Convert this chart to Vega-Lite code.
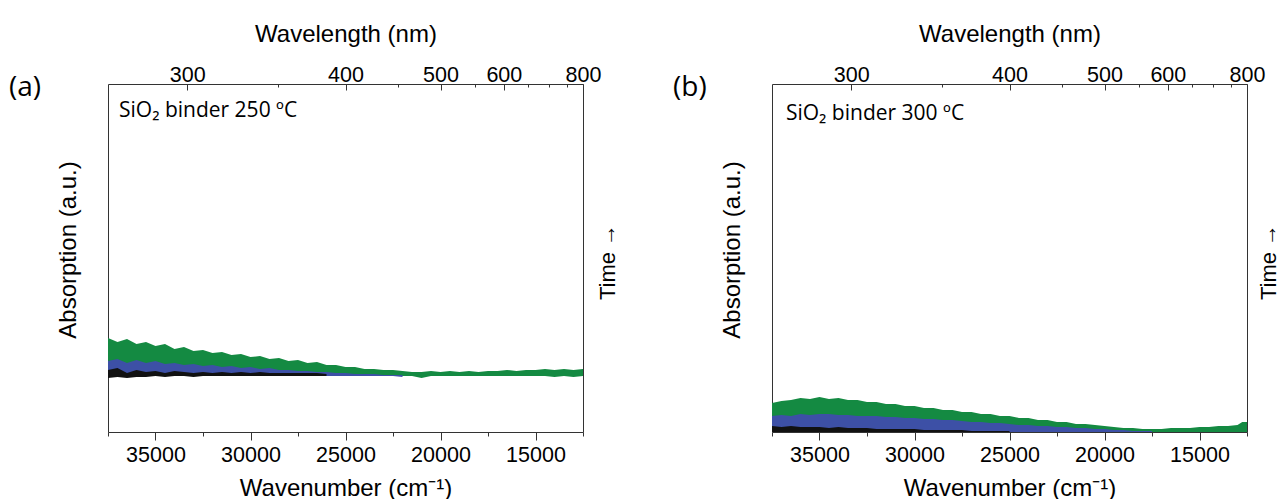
{
  "$schema": "https://vega.github.io/schema/vega-lite/v6.json",
  "padding": {"left": 8, "top": 21, "right": 0, "bottom": 0},
  "spacing": 189,
  "bounds": "flush",
  "config": {
    "view": {"stroke": "#333", "strokeWidth": 1},
    "font": "Liberation Sans",
    "axis": {
      "labelFont": "Liberation Sans", "labelFontSize": 21.5, "labelColor": "#000",
      "titleFont": "Liberation Sans", "titleFontSize": 24, "titleFontWeight": "normal", "titleColor": "#000",
      "tickColor": "#333", "tickWidth": 1, "domain": false, "grid": false, "labelFlush": false
    }
  },
  "datasets": {
    "a": [
      {"wn":37500,"g":94,"gl":57,"b":71,"bl":57,"k":62,"kl":54},
      {"wn":37000,"g":90,"gl":56,"b":73,"bl":56,"k":64,"kl":55},
      {"wn":36500,"g":93,"gl":57,"b":69,"bl":57,"k":59,"kl":54},
      {"wn":36000,"g":88,"gl":56,"b":72,"bl":56,"k":62,"kl":55},
      {"wn":35500,"g":90,"gl":57,"b":69,"bl":57,"k":60,"kl":55},
      {"wn":35000,"g":86,"gl":56,"b":71,"bl":56,"k":61,"kl":56},
      {"wn":34500,"g":88,"gl":57,"b":68,"bl":57,"k":59,"kl":55},
      {"wn":34000,"g":83,"gl":56,"b":69,"bl":56,"k":61,"kl":56},
      {"wn":33500,"g":85,"gl":57,"b":67,"bl":57,"k":60,"kl":56},
      {"wn":33000,"g":81,"gl":56,"b":68,"bl":56,"k":59,"kl":55},
      {"wn":32500,"g":82,"gl":57,"b":66,"bl":57,"k":60,"kl":56},
      {"wn":32000,"g":79,"gl":56,"b":67,"bl":56,"k":59,"kl":56},
      {"wn":31500,"g":80,"gl":57,"b":65,"bl":57,"k":60,"kl":56},
      {"wn":31000,"g":77,"gl":56,"b":66,"bl":56,"k":59,"kl":56},
      {"wn":30500,"g":78,"gl":57,"b":64,"bl":57,"k":60,"kl":56},
      {"wn":30000,"g":75,"gl":56,"b":65,"bl":56,"k":59,"kl":56},
      {"wn":29500,"g":76,"gl":57,"b":63,"bl":57,"k":60,"kl":56},
      {"wn":29000,"g":73,"gl":56,"b":64,"bl":56,"k":59,"kl":56},
      {"wn":28500,"g":74,"gl":57,"b":62,"bl":57,"k":59,"kl":56},
      {"wn":28000,"g":71,"gl":56,"b":62,"bl":56,"k":59,"kl":56},
      {"wn":27500,"g":72,"gl":57,"b":61,"bl":57,"k":59,"kl":56},
      {"wn":27000,"g":69,"gl":56,"b":61,"bl":56,"k":59,"kl":56},
      {"wn":26500,"g":70,"gl":57,"b":60,"bl":57,"k":59,"kl":56},
      {"wn":26000,"g":67,"gl":56,"b":60,"bl":56,"k":58,"kl":56},
      {"wn":25500,"g":67,"gl":56,"b":59,"bl":56},
      {"wn":25000,"g":65,"gl":56,"b":59,"bl":56},
      {"wn":24500,"g":65,"gl":56,"b":58,"bl":56},
      {"wn":24000,"g":63,"gl":56,"b":58,"bl":56},
      {"wn":23500,"g":63,"gl":56,"b":58,"bl":56},
      {"wn":23000,"g":62,"gl":56,"b":57,"bl":56},
      {"wn":22500,"g":62,"gl":56,"b":57,"bl":56},
      {"wn":22000,"g":61,"gl":56,"b":57,"bl":55},
      {"wn":21500,"g":60,"gl":56},
      {"wn":21000,"g":60,"gl":54},
      {"wn":20500,"g":61,"gl":56},
      {"wn":20000,"g":60,"gl":56},
      {"wn":19500,"g":61,"gl":56},
      {"wn":19000,"g":60,"gl":56},
      {"wn":18500,"g":61,"gl":56},
      {"wn":18000,"g":60,"gl":56},
      {"wn":17500,"g":61,"gl":56},
      {"wn":17000,"g":61,"gl":56},
      {"wn":16500,"g":62,"gl":56},
      {"wn":16000,"g":61,"gl":56},
      {"wn":15500,"g":62,"gl":56},
      {"wn":15000,"g":62,"gl":56},
      {"wn":14500,"g":63,"gl":56},
      {"wn":14000,"g":62,"gl":55},
      {"wn":13500,"g":63,"gl":56},
      {"wn":13000,"g":62,"gl":55},
      {"wn":12500,"g":63,"gl":56}
    ],
    "b": [
      {"wn":37500,"g":29,"b":16,"k":6},
      {"wn":37000,"g":31,"b":17,"k":5},
      {"wn":36500,"g":32,"b":16,"k":6},
      {"wn":36000,"g":34,"b":18,"k":5},
      {"wn":35500,"g":33,"b":17,"k":5},
      {"wn":35000,"g":35,"b":18,"k":5},
      {"wn":34500,"g":33,"b":18,"k":4},
      {"wn":34000,"g":34,"b":17,"k":5},
      {"wn":33500,"g":32,"b":17,"k":4},
      {"wn":33000,"g":32,"b":16,"k":4},
      {"wn":32500,"g":30,"b":16,"k":4},
      {"wn":32000,"g":30,"b":16,"k":3},
      {"wn":31500,"g":28,"b":15,"k":3},
      {"wn":31000,"g":28,"b":15,"k":3},
      {"wn":30500,"g":26,"b":14,"k":3},
      {"wn":30000,"g":26,"b":14,"k":3},
      {"wn":29500,"g":24,"b":13,"k":2},
      {"wn":29000,"g":24,"b":13,"k":2},
      {"wn":28500,"g":22,"b":12,"k":2},
      {"wn":28000,"g":22,"b":12,"k":2},
      {"wn":27500,"g":20,"b":11,"k":2},
      {"wn":27000,"g":20,"b":10,"k":1},
      {"wn":26500,"g":18,"b":10,"k":1},
      {"wn":26000,"g":18,"b":9,"k":1},
      {"wn":25500,"g":16,"b":9,"k":1},
      {"wn":25000,"g":16,"b":8,"k":1},
      {"wn":24500,"g":14,"b":7},
      {"wn":24000,"g":14,"b":7},
      {"wn":23500,"g":12,"b":6},
      {"wn":23000,"g":12,"b":6},
      {"wn":22500,"g":10,"b":5},
      {"wn":22000,"g":10,"b":5},
      {"wn":21500,"g":8,"b":4},
      {"wn":21000,"g":8,"b":4},
      {"wn":20500,"g":7,"b":3},
      {"wn":20000,"g":6,"b":3},
      {"wn":19500,"g":5,"b":2},
      {"wn":19000,"g":4,"b":2},
      {"wn":18500,"g":4,"b":1},
      {"wn":18000,"g":3,"b":1},
      {"wn":17500,"g":3,"b":1},
      {"wn":17000,"g":3},
      {"wn":16500,"g":4},
      {"wn":16000,"g":4},
      {"wn":15500,"g":4},
      {"wn":15000,"g":5},
      {"wn":14500,"g":5},
      {"wn":14000,"g":6},
      {"wn":13500,"g":6},
      {"wn":13000,"g":7},
      {"wn":12750,"g":10},
      {"wn":12500,"g":10}
    ]
  },
  "hconcat": [
    {
      "width": 475, "height": 348,
      "resolve": {"axis": {"x": "independent"}},
      "layer": [
        {
          "data": {"name": "a"},
          "mark": {"type": "area", "color": "#148a42", "opacity": 1},
          "encoding": {
            "x": {"field": "wn", "type": "quantitative", "scale": {"domain": [37500, 12500], "nice": false, "zero": false},
              "axis": {"orient": "bottom", "title": "Wavenumber (cm⁻¹)", "values": [35000, 30000, 25000, 20000, 15000], "format": "d", "tickSize": 8, "labelPadding": 4, "titlePadding": 11}},
            "y": {"field": "g", "type": "quantitative", "scale": {"domain": [0, 348], "nice": false, "zero": false}, "axis": null},
            "y2": {"field": "gl"}
          }
        },
        {
          "data": {"name": "a"},
          "mark": {"type": "area", "color": "#3d50a6", "opacity": 1},
          "encoding": {
            "x": {"field": "wn", "type": "quantitative",
              "axis": {"orient": "bottom", "title": null, "labels": false, "values": [37500, 32500, 27500, 22500, 17500, 12500], "tickSize": 4}},
            "y": {"field": "b", "type": "quantitative", "axis": null},
            "y2": {"field": "bl"}
          }
        },
        {
          "data": {"name": "a"},
          "mark": {"type": "area", "color": "#111111", "opacity": 1},
          "encoding": {
            "x": {"field": "wn", "type": "quantitative",
              "axis": {"orient": "top", "title": "Wavelength (nm)", "values": [33333.333333, 25000, 20000, 16666.666667, 12500], "labelExpr": "format(1e7/datum.value, '.0f')", "tickSize": -6, "labelPadding": 9, "labelBaseline": "alphabetic", "titlePadding": 18}},
            "y": {"field": "k", "type": "quantitative", "axis": null},
            "y2": {"field": "kl"}
          }
        },
        {
          "data": {"values": [{"label": "(a)", "wn": 42710, "v": 336}]},
          "mark": {"type": "text", "align": "left", "baseline": "alphabetic", "font": "Open Sans", "fontSize": 28, "color": "#000"},
          "encoding": {
            "x": {"field": "wn", "type": "quantitative",
              "axis": {"orient": "top", "title": null, "labels": false, "values": [28571.43, 22222.22, 18181.82, 15384.62, 14285.71, 13333.33], "tickSize": -3}},
            "y": {"field": "v", "type": "quantitative", "axis": null},
            "text": {"field": "label"}
          }
        },
        {
          "data": {"values": [{"label": "SiO₂ binder 250 ºC", "wn": 36921, "v": 315}]},
          "mark": {"type": "text", "align": "left", "baseline": "alphabetic", "font": "Open Sans", "fontSize": 21, "color": "#000"},
          "encoding": {
            "x": {"field": "wn", "type": "quantitative", "axis": null},
            "y": {"field": "v", "type": "quantitative", "axis": null},
            "text": {"field": "label"}
          }
        },
        {
          "data": {"values": [{"label": "Absorption (a.u.)", "wn": 39184, "v": 182}]},
          "mark": {"type": "text", "align": "center", "baseline": "alphabetic", "angle": 270, "font": "Liberation Sans", "fontSize": 24, "color": "#000"},
          "encoding": {
            "x": {"field": "wn", "type": "quantitative", "axis": null},
            "y": {"field": "v", "type": "quantitative", "axis": null},
            "text": {"field": "label"}
          }
        },
        {
          "data": {"values": [{"label": "Time →", "wn": 10800, "v": 170}]},
          "mark": {"type": "text", "align": "center", "baseline": "alphabetic", "angle": 270, "font": "Liberation Sans", "fontSize": 22, "color": "#000"},
          "encoding": {
            "x": {"field": "wn", "type": "quantitative", "axis": null},
            "y": {"field": "v", "type": "quantitative", "axis": null},
            "text": {"field": "label"}
          }
        }
      ]
    },
    {
      "width": 475, "height": 348,
      "resolve": {"axis": {"x": "independent"}},
      "layer": [
        {
          "data": {"name": "b"},
          "mark": {"type": "area", "color": "#148a42", "opacity": 1},
          "encoding": {
            "x": {"field": "wn", "type": "quantitative", "scale": {"domain": [37500, 12500], "nice": false, "zero": false},
              "axis": {"orient": "bottom", "title": "Wavenumber (cm⁻¹)", "values": [35000, 30000, 25000, 20000, 15000], "format": "d", "tickSize": 8, "labelPadding": 4, "titlePadding": 11}},
            "y": {"field": "g", "type": "quantitative", "scale": {"domain": [0, 348], "nice": false, "zero": false}, "axis": null}
          }
        },
        {
          "data": {"name": "b"},
          "mark": {"type": "area", "color": "#3d50a6", "opacity": 1},
          "encoding": {
            "x": {"field": "wn", "type": "quantitative",
              "axis": {"orient": "bottom", "title": null, "labels": false, "values": [37500, 32500, 27500, 22500, 17500, 12500], "tickSize": 4}},
            "y": {"field": "b", "type": "quantitative", "axis": null}
          }
        },
        {
          "data": {"name": "b"},
          "mark": {"type": "area", "color": "#111111", "opacity": 1},
          "encoding": {
            "x": {"field": "wn", "type": "quantitative",
              "axis": {"orient": "top", "title": "Wavelength (nm)", "values": [33333.333333, 25000, 20000, 16666.666667, 12500], "labelExpr": "format(1e7/datum.value, '.0f')", "tickSize": -6, "labelPadding": 9, "labelBaseline": "alphabetic", "titlePadding": 18}},
            "y": {"field": "k", "type": "quantitative", "axis": null}
          }
        },
        {
          "data": {"values": [{"label": "(b)", "wn": 42710, "v": 336}]},
          "mark": {"type": "text", "align": "left", "baseline": "alphabetic", "font": "Open Sans", "fontSize": 28, "color": "#000"},
          "encoding": {
            "x": {"field": "wn", "type": "quantitative",
              "axis": {"orient": "top", "title": null, "labels": false, "values": [28571.43, 22222.22, 18181.82, 15384.62, 14285.71, 13333.33], "tickSize": -3}},
            "y": {"field": "v", "type": "quantitative", "axis": null},
            "text": {"field": "label"}
          }
        },
        {
          "data": {"values": [{"label": "SiO₂ binder 300 ºC", "wn": 36765, "v": 312}]},
          "mark": {"type": "text", "align": "left", "baseline": "alphabetic", "font": "Open Sans", "fontSize": 21, "color": "#000"},
          "encoding": {
            "x": {"field": "wn", "type": "quantitative", "axis": null},
            "y": {"field": "v", "type": "quantitative", "axis": null},
            "text": {"field": "label"}
          }
        },
        {
          "data": {"values": [{"label": "Absorption (a.u.)", "wn": 39184, "v": 182}]},
          "mark": {"type": "text", "align": "center", "baseline": "alphabetic", "angle": 270, "font": "Liberation Sans", "fontSize": 24, "color": "#000"},
          "encoding": {
            "x": {"field": "wn", "type": "quantitative", "axis": null},
            "y": {"field": "v", "type": "quantitative", "axis": null},
            "text": {"field": "label"}
          }
        },
        {
          "data": {"values": [{"label": "Time →", "wn": 10950, "v": 170}]},
          "mark": {"type": "text", "align": "center", "baseline": "alphabetic", "angle": 270, "font": "Liberation Sans", "fontSize": 22, "color": "#000"},
          "encoding": {
            "x": {"field": "wn", "type": "quantitative", "axis": null},
            "y": {"field": "v", "type": "quantitative", "axis": null},
            "text": {"field": "label"}
          }
        }
      ]
    }
  ]
}
